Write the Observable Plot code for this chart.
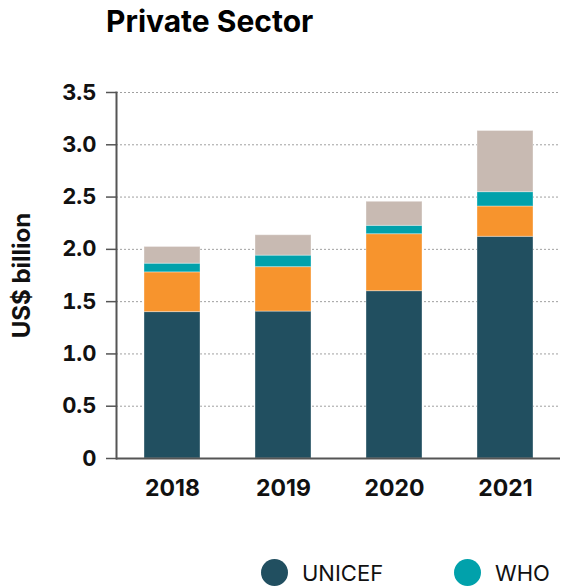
<!DOCTYPE html>
<html>
<head>
<meta charset="utf-8">
<script src="https://cdn.jsdelivr.net/npm/d3@7"></script>
<script src="https://cdn.jsdelivr.net/npm/@observablehq/plot@0.6"></script>
<style>
  html, body { margin: 0; padding: 0; background: #fff; font-family: Inter, "Noto Sans", sans-serif; }
  #title { position: absolute; left: 106px; top: 3px; font-size: 30px; font-weight: 700; color: #000; white-space: nowrap; }
  #chart { position: absolute; left: 0; top: 50px; }
  #legend { position: absolute; left: 261px; top: 559px; display: grid; grid-template-columns: 193px 193px; }
  .item { display: flex; align-items: center; height: 27px; font-size: 22px; line-height: 20px; color: #111; }
  .dot { width: 27px; height: 27px; border-radius: 50%; margin-right: 14px; flex: none; }
</style>
</head>
<body>
<div id="title">Private Sector</div>
<div id="chart"></div>
<div id="legend"></div>
<script>
const years = ["2018", "2019", "2020", "2021"];
const seriesNames = ["UNICEF", "UNHCR", "WHO", "Others"];
const seriesColors = ["#214f60", "#f7942d", "#01a1ab", "#c8bab2"];
// only the legend entries visible in the reference (the rest fall below the frame)
const legendShown = ["UNICEF", "WHO"];
const unicef = [1.40, 1.405, 1.60, 2.12];
const unhcr  = [0.38, 0.425, 0.545, 0.29];
const who    = [0.083, 0.11, 0.08, 0.137];
const others = [0.16, 0.195, 0.23, 0.585];
const yTicks = [0, 0.5, 1.0, 1.5, 2.0, 2.5, 3.0, 3.5];

const valuesBySeries = [unicef, unhcr, who, others];
const data = [];
seriesNames.forEach((s, i) => {
  years.forEach((y, j) => data.push({year: y, series: s, value: valuesBySeries[i][j]}));
});

const chart = Plot.plot({
  width: 562,
  height: 460,
  marginTop: 42,
  marginBottom: 52,
  marginLeft: 116,
  marginRight: 2,
  style: {fontFamily: "Inter, 'Noto Sans', sans-serif", color: "#111", overflow: "visible"},
  x: {domain: years, paddingInner: 0.5, paddingOuter: 0.25},
  y: {domain: [0, 3.5]},
  color: {domain: seriesNames, range: seriesColors},
  marks: [
    Plot.gridY(yTicks, {stroke: "#888", strokeOpacity: 0.8, strokeDasharray: "2,2", strokeWidth: 1}),
    Plot.barY(data, Plot.stackY({x: "year", y: "value", fill: "series", order: seriesNames, stroke: "#fff", strokeOpacity: 0.35, strokeWidth: 1})),
    Plot.axisY(yTicks, {
      tickSize: 10, tickPadding: 10, stroke: "#555", strokeWidth: 1.5,
      tickFormat: d => d === 0 ? "0" : d.toFixed(1),
      fontSize: 22, fontWeight: 700, fill: "#111",
      label: "US$ billion", labelAnchor: "center", labelArrow: "none", labelOffset: 104
    }),
    Plot.axisX({tickSize: 0, tickPadding: 21, fontSize: 23, fontWeight: 700, fill: "#111", label: null}),
    Plot.frame({anchor: "left", stroke: "#555", strokeWidth: 2}),
    Plot.ruleY([0], {stroke: "#555", strokeWidth: 2})
  ]
});
chart.querySelectorAll("[aria-label='y-axis label'] text, [aria-label='y-axis label']").forEach(el => {
  el.setAttribute("font-size", 24); el.setAttribute("font-weight", 700);
});
document.getElementById("chart").appendChild(chart);

const legend = document.getElementById("legend");
legendShown.forEach((s) => {
  const i = seriesNames.indexOf(s);
  const item = document.createElement("div");
  item.className = "item";
  item.innerHTML = `<span class="dot" style="background:${seriesColors[i]}"></span><span>${s}</span>`;
  legend.appendChild(item);
});
</script>
</body>
</html>
